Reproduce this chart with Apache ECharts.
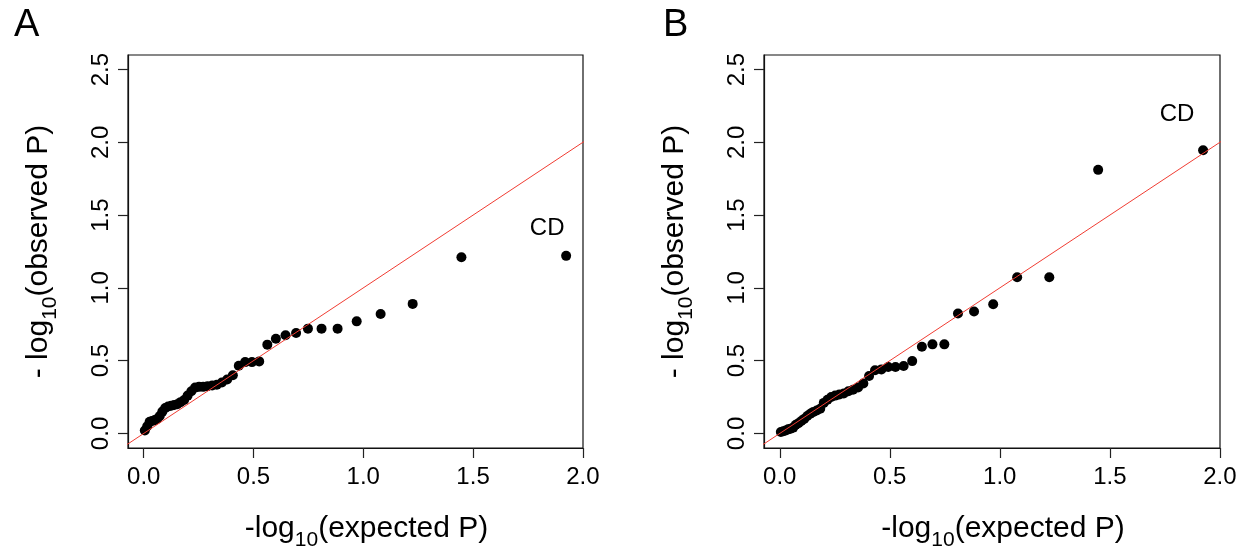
<!DOCTYPE html>
<html><head><meta charset="utf-8">
<script src="https://cdn.jsdelivr.net/npm/echarts@6/dist/echarts.min.js"></script>
<style>html,body{margin:0;padding:0;background:#fff}#c{width:1248px;height:556px}</style>
</head><body><div id="c"></div>
<script>
// Expected -log10(P) (quantiles), sorted from largest to smallest
const expectedP = [1.924,1.447,1.225,1.079,0.970,0.883,0.810,0.748,0.694,0.646,0.602,0.563,0.526,0.493,0.462,0.433,0.406,0.380,0.356,0.333,0.312,0.291,0.271,0.252,0.234,0.217,0.200,0.184,0.168,0.153,0.139,0.125,0.111,0.098,0.085,0.073,0.061,0.049,0.038,0.027,0.016,0.005];
// Observed -log10(P), panel A
const observedA = [1.22,1.21,0.89,0.82,0.77,0.72,0.72,0.72,0.69,0.675,0.65,0.61,0.495,0.49,0.49,0.465,0.40,0.37,0.35,0.335,0.33,0.325,0.32,0.32,0.315,0.29,0.26,0.23,0.215,0.20,0.195,0.19,0.185,0.175,0.15,0.12,0.10,0.09,0.085,0.08,0.05,0.02];
// Observed -log10(P), panel B
const observedB = [1.946,1.811,1.073,1.073,0.888,0.838,0.824,0.612,0.612,0.596,0.497,0.463,0.456,0.456,0.44,0.434,0.395,0.343,0.316,0.30,0.29,0.275,0.268,0.26,0.25,0.232,0.21,0.17,0.158,0.148,0.135,0.12,0.10,0.085,0.07,0.06,0.04,0.033,0.028,0.02,0.015,0.01];
const xTicks = [0, 0.5, 1, 1.5, 2];
const yTicks = [0, 0.5, 1, 1.5, 2, 2.5];
const refLine = [-0.5, 3];           // y = x reference line end values
const panelLabels = ['A', 'B'];
const highlightLabel = 'CD';

const FONT = 'Liberation Sans, Arial, Helvetica, sans-serif';
const chart = echarts.init(document.getElementById('c'), null, {renderer: 'canvas'});

const nameRich = {
  a: {fontSize: 30, fontFamily: FONT, color: '#000', lineHeight: 30, verticalAlign: 'top'},
  s: {fontSize: 21, fontFamily: FONT, color: '#000', lineHeight: 21, verticalAlign: 'top', padding: [16, 0, 0, 0]}
};
const axisLine = {show: true, onZero: false, lineStyle: {color: '#111', width: 1.2}};

function xAxis(gi) {
  return {
    type: 'value', gridIndex: gi, min: -0.0716, max: 2.0008,
    axisLine, splitLine: {show: false},
    axisTick: {show: true, inside: false, length: 10, customValues: xTicks, lineStyle: {color: '#222', width: 1.2}},
    axisLabel: {customValues: xTicks, formatter: v => v.toFixed(1), fontSize: 24, color: '#000', fontFamily: FONT, margin: 17},
    name: '{a|-log}{s|10}{a|(expected P)}', nameLocation: 'middle', nameGap: 66,
    nameTextStyle: {rich: nameRich, padding: [0, 0, 0, 22]}
  };
}
function yAxis(gi) {
  return {
    type: 'value', gridIndex: gi, min: -0.1, max: 2.6,
    axisLine, splitLine: {show: false},
    axisTick: {show: true, inside: false, length: 10, customValues: yTicks, lineStyle: {color: '#222', width: 1.2}},
    axisLabel: {customValues: yTicks, formatter: v => v.toFixed(1), fontSize: 24, color: '#000', fontFamily: FONT, margin: 15, rotate: 90},
    name: '{a|- log}{s|10}{a|(observed P)}', nameLocation: 'middle', nameGap: 74, nameRotate: 90,
    nameTextStyle: {rich: nameRich}
  };
}
function pts(obs) { return expectedP.map((e, i) => [e, obs[i]]); }
function scatter(gi, obs, offset) {
  const data = pts(obs).map((p, i) => i === 0 ? {
    value: p,
    label: {show: true, formatter: highlightLabel, position: 'inside', offset: offset,
      fontSize: 24, color: '#000', fontFamily: FONT, opacity: 1}
  } : p);
  return {type: 'scatter', xAxisIndex: gi, yAxisIndex: gi, data, symbol: 'circle', symbolSize: 10,
    itemStyle: {color: '#000', opacity: 1}, z: 2, silent: true, animation: false};
}
function ref(gi) {
  return {type: 'line', xAxisIndex: gi, yAxisIndex: gi, data: refLine.map(v => [v, v]), showSymbol: false,
    symbol: 'none', lineStyle: {color: '#f03c32', width: 1}, clip: true, z: 3, silent: true, animation: false};
}

chart.setOption({
  animation: false,
  backgroundColor: '#fff',
  title: panelLabels.map((t, i) => ({text: t, left: i === 0 ? 9 : 658, top: 2,
    textStyle: {fontSize: 38, fontWeight: 'normal', fontFamily: FONT, color: '#000'}})),
  grid: [
    {left: 128, top: 55, width: 455, height: 399, show: true, borderColor: '#111', borderWidth: 1.2, backgroundColor: 'transparent'},
    {left: 764, top: 55, width: 456, height: 399, show: true, borderColor: '#111', borderWidth: 1.2, backgroundColor: 'transparent'}
  ],
  xAxis: [xAxis(0), xAxis(1)],
  yAxis: [yAxis(0), yAxis(1)],
  series: [scatter(0, observedA, [-19, -27]), ref(0), scatter(1, observedB, [-26, -36]), ref(1)]
});
</script></body></html>
